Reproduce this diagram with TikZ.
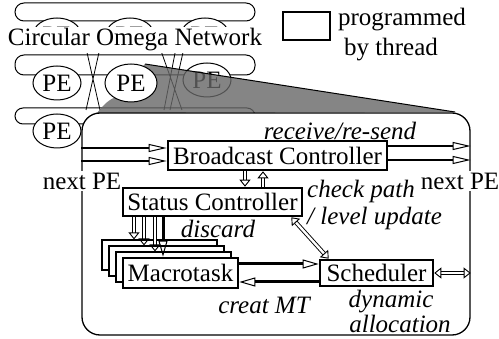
\documentclass[tikz,border=0pt]{standalone}
\usepackage{fontspec}
\setmainfont{Liberation Serif}
\newfontfamily\tnr{Liberation Serif}
\usetikzlibrary{arrows.meta,shapes.geometric,calc}
\begin{document}
\begin{tikzpicture}[x=1pt,y=-1pt,
  every node/.style={font=\tnr\fontsize{25}{27}\selectfont, inner sep=0pt},
  box/.style={draw, line width=2.6pt, fill=white},
  bbox/.style={draw, line width=1.2pt, fill=white},
  pe/.style={draw, ellipse, fill=white, line width=1pt, minimum width=48pt, minimum height=34pt},
  lbl/.style={font=\tnr\fontsize{25}{27}\selectfont\itshape},
  thinarr/.style={line width=1.6pt, -{Triangle[open, length=18pt, width=8pt, line width=1pt]}},
  thickarr/.style={line width=3pt, -{Triangle[open, length=16pt, width=9pt, line width=1pt]}},
  hollow/.style={double=white, double distance=2.4pt, line width=0.9pt, -{Triangle[open, length=7pt, width=11pt, line width=0.9pt]}},
  hollowboth/.style={double=white, double distance=2.4pt, line width=0.9pt, {Triangle[open, length=7pt, width=11pt, line width=0.9pt]}-{Triangle[open, length=7pt, width=11pt, line width=0.9pt]}},
]
\useasboundingbox (0,0) rectangle (499,339);
% rings of the omega network
\draw[line width=1pt, rounded corners=9pt] (15,3) rectangle (255,21);
\draw[line width=1pt, rounded corners=9pt] (15,55) rectangle (255,75);
\draw[line width=1pt, rounded corners=8pt] (15,108) rectangle (255,124);
% crossing lines
\draw[line width=0.8pt] (86,48) -- (100,110) (100,48) -- (86,110);
\draw[line width=0.8pt] (160,48) -- (182,110) (176,48) -- (164,110) (184,48) -- (170,110);
% PEs
\node[pe] (pe11) at (57,35) {PE};
\node[pe] (pe12) at (130,35) {PE};
\node[pe] (pe13) at (205,35) {PE};
\node[pe] (pe21) at (57,83) {PE};
\node[pe] (pe23) at (207,80) {PE};
\node[pe] (pe31) at (57,131) {PE};
% zoom shading
\fill[black!60, fill opacity=0.8] (145,64) -- (455,112) -- (97,113) .. controls (104,104) and (110,99) .. (116,97) -- cycle;
\draw[line width=1pt] (145,64) -- (455,112);
\node[pe, minimum width=52pt, minimum height=38pt] (pe22) at (131,83) {PE};
% enlarged PE
\node[draw, line width=1.3pt, rounded corners=18pt, fill=white, minimum width=388pt, minimum height=222pt] (zoom) at (276,224) {};
\node[fill=white, inner sep=1.5pt] (con) at (135,40) {Circular Omega Network};
% legend
\node[box, minimum width=47pt, minimum height=28pt] (leg) at (306.5,26) {};
\node (leg1) at (402,20) {programmed};
\node (leg2) at (391,50) {by thread};
% blocks
\node[lbl] (rs) at (340,131) {receive/re-send};
\node[box, minimum width=219pt, minimum height=29pt] (bc) at (277.5,155.5) {Broadcast Controller};
\node[fill=white, inner sep=2pt] (npl) at (82,181) {next PE};
\node[fill=white, inner sep=2pt] (npr) at (460,181) {next PE};
\node[box, minimum width=179pt, minimum height=28pt] (sc) at (212.5,202) {Status Controller};
\node[lbl, align=left, anchor=west] (cp) at (307,205) {check path\\/ level update};
\node[lbl] (dis) at (218,229) {discard};
\node[bbox, minimum width=115pt, minimum height=30pt] (m1) at (159.5,255) {};
\node[bbox, minimum width=115pt, minimum height=30pt] (m2) at (166.5,261) {};
\node[bbox, minimum width=115pt, minimum height=30pt] (m3) at (173.5,267) {};
\node[box, minimum width=115pt, minimum height=30pt] (mt) at (180.5,273) {Macrotask};
\node[box, minimum width=113pt, minimum height=26pt] (sch) at (376.5,273) {Scheduler};
\node[lbl] (cmt) at (264,305) {creat MT};
\node[lbl] (dy1) at (391,302) {dynamic};
\node[lbl] (dy2) at (400,324) {allocation};
% connectors
\draw[thinarr] (zoom.west |- 0,148) -- (bc.west |- 0,148);
\draw[thinarr] (zoom.west |- 0,161) -- (bc.west |- 0,161);
\draw[thinarr] (bc.east |- 0,146) -- (zoom.east |- 0,146);
\draw[thinarr] (bc.east |- 0,160) -- (zoom.east |- 0,160);
\draw[hollow] (bc.south -| 245,0) -- (sc.north -| 245,0);
\draw[hollow] (sc.north -| 263,0) -- (bc.south -| 263,0);
\draw[hollow] (sc.south -| 134,0) -- (m1.north -| 134,0);
\draw[hollow] (sc.south -| 144,0) -- (m2.north -| 144,0);
\draw[hollow] (sc.south -| 155,0) -- (m3.north -| 155,0);
\draw[thickarr] (sc.south -| 163,0) -- (mt.north -| 163,0);
\draw[hollowboth] ([xshift=-12pt]sc.south east) -- ([xshift=10pt]sch.north west);
\draw[thickarr] (mt.east |- 0,264) -- (sch.west |- 0,264);
\draw[thickarr] (sch.west |- 0,282) -- (mt.east |- 0,282);
\draw[hollowboth] (sch.east) -- (zoom.east |- sch.east);
\end{tikzpicture}
\end{document}
